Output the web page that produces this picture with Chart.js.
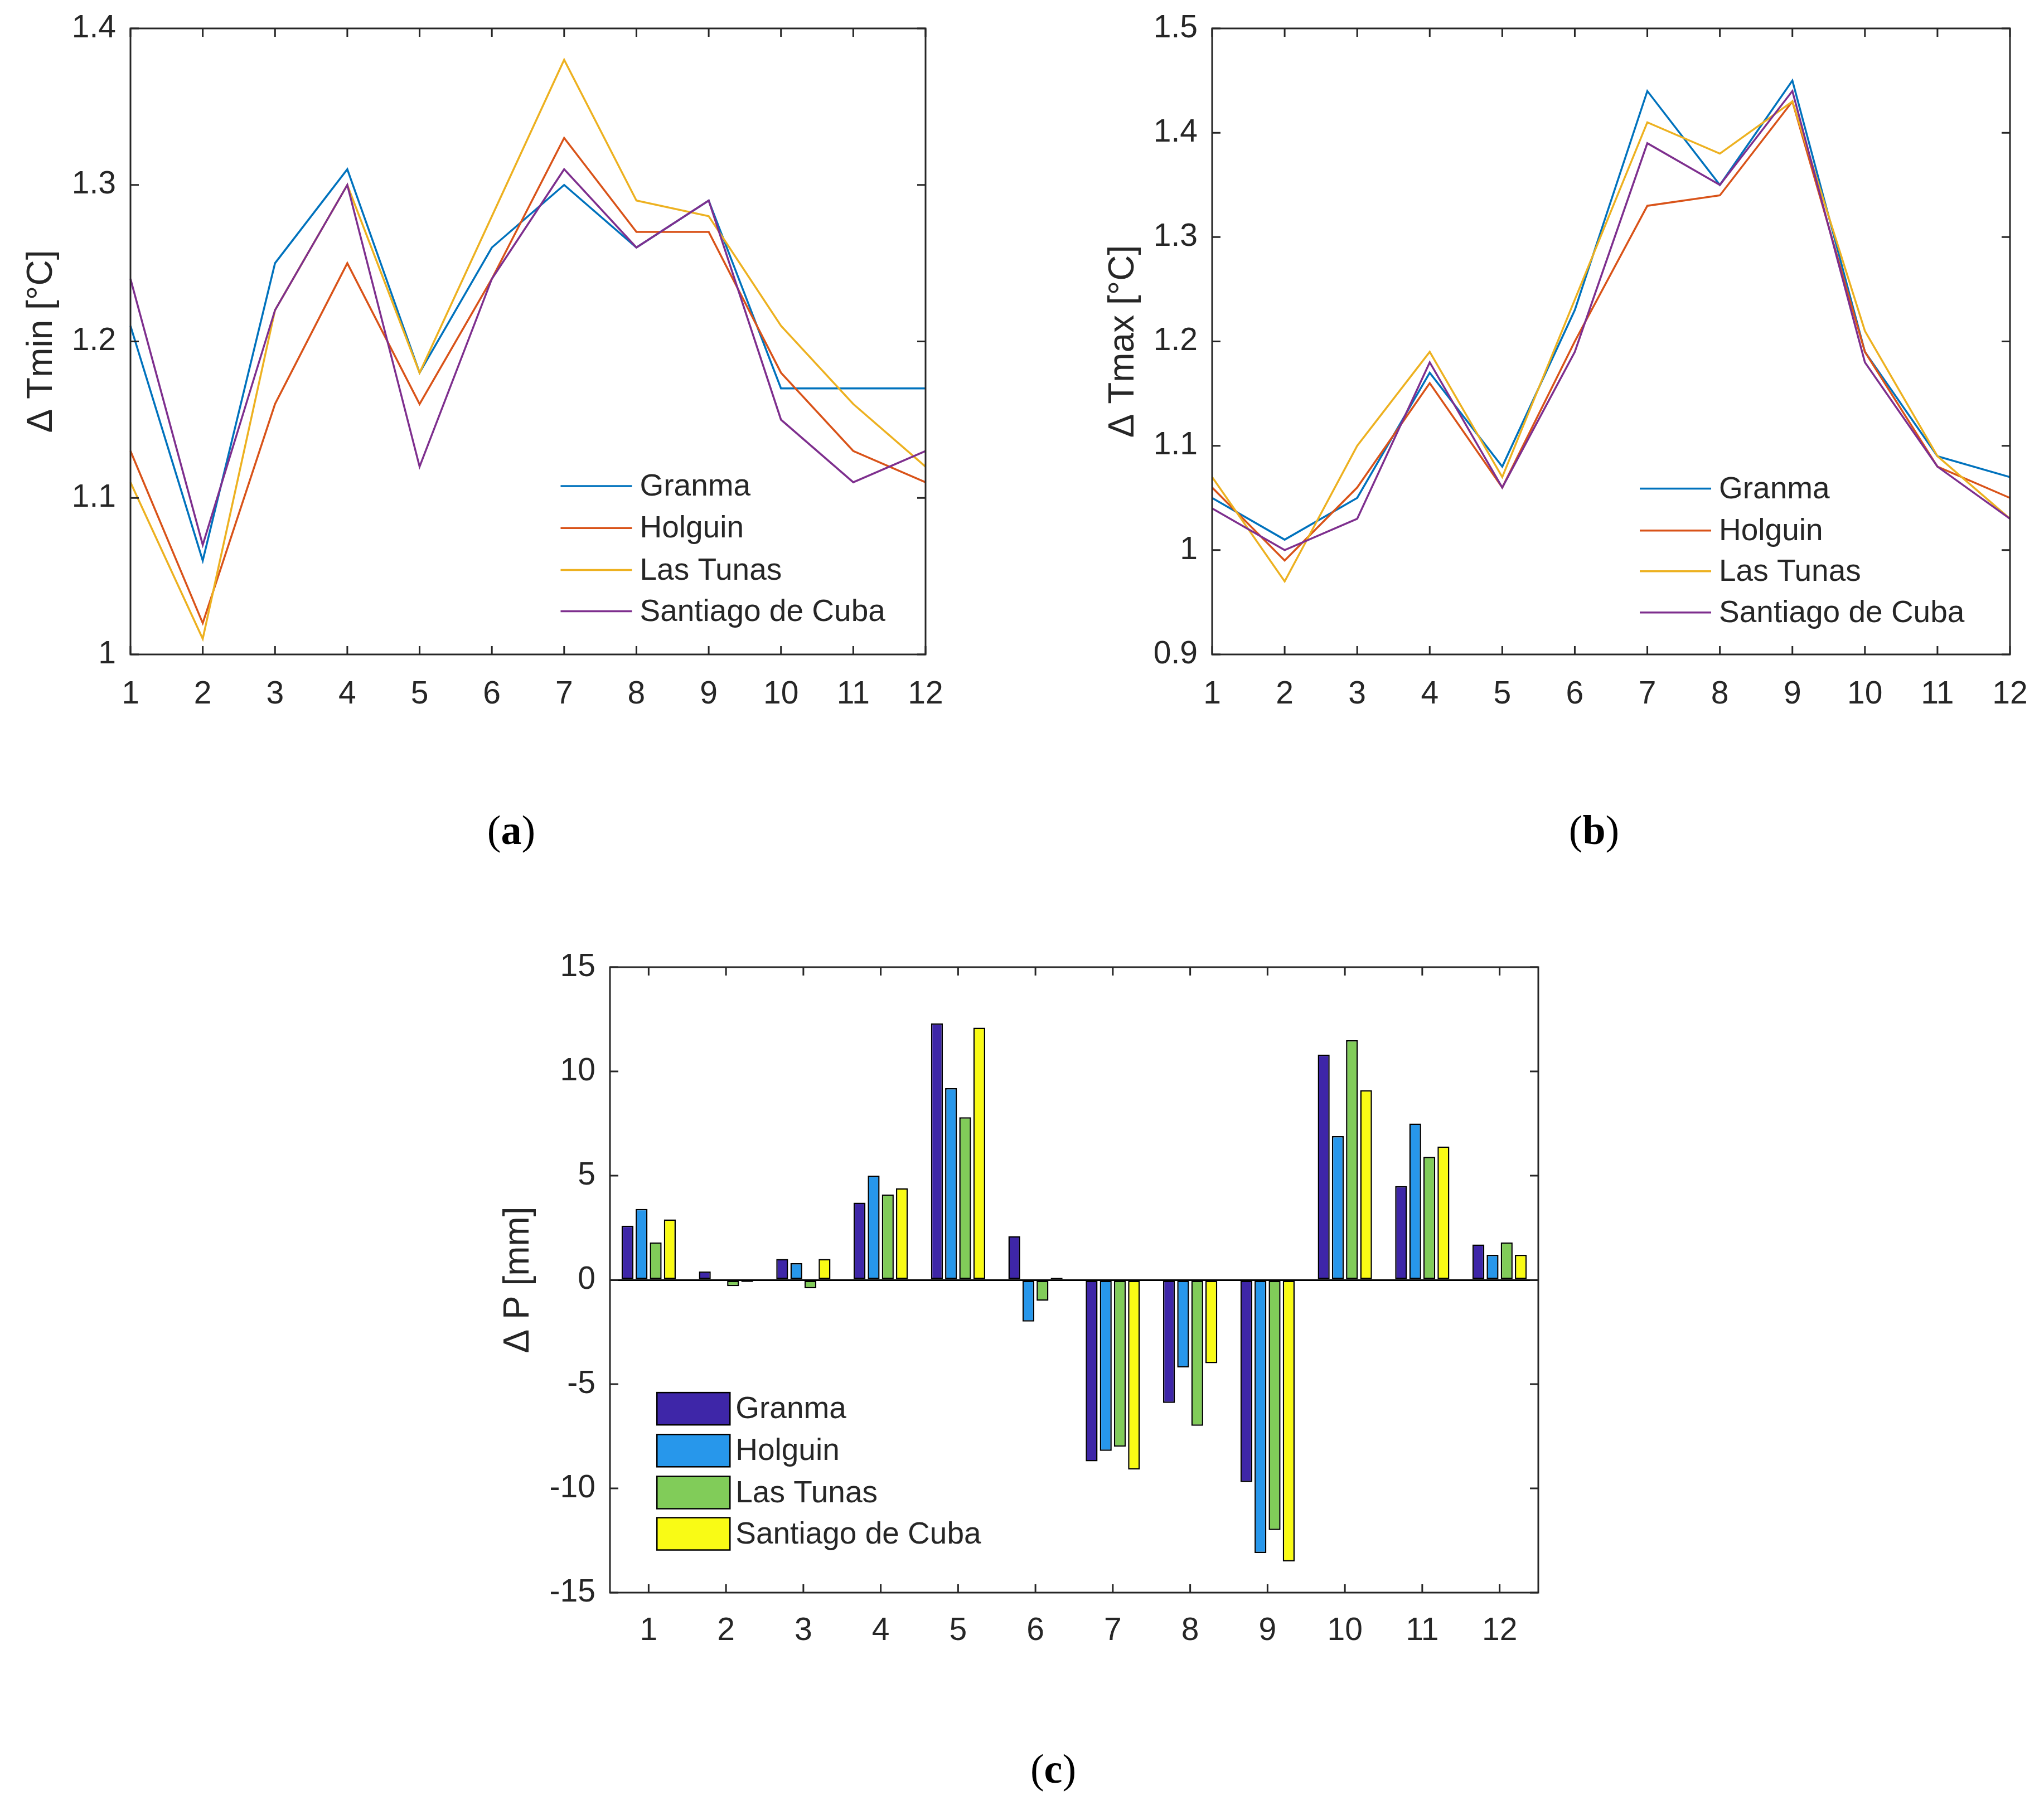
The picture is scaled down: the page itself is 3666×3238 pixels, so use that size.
<!DOCTYPE html>
<html>
<head>
<meta charset="utf-8">
<script src="https://cdn.jsdelivr.net/npm/chart.js@4.4.1/dist/chart.umd.min.js"></script>
<style>
  html, body { margin: 0; padding: 0; background: #fff; overflow: hidden; }
  body { width: 3666px; height: 3238px; position: relative; }
  .panel { position: absolute; }
  .tag { position: absolute; font-family: "Liberation Serif", "DejaVu Serif", serif; font-size: 74px; color: #000; transform: translate(-50%, -50%); white-space: nowrap; }
</style>
</head>
<body>
<div class="panel" style="left:0;top:-10px;width:1730px;height:1310px"><canvas id="chartTmin"></canvas></div>
<div class="panel" style="left:1909px;top:-10px;width:1766px;height:1310px"><canvas id="chartTmax"></canvas></div>
<div class="panel" style="left:800px;top:1650px;width:2000px;height:1350px"><canvas id="chartP"></canvas></div>
<div class="tag" style="left:917px;top:1489px">(<b>a</b>)</div>
<div class="tag" style="left:2859px;top:1489px">(<b>b</b>)</div>
<div class="tag" style="left:1889px;top:3173px">(<b>c</b>)</div>

<script>
const months = ['1', '2', '3', '4', '5', '6', '7', '8', '9', '10', '11', '12'];
const provinces = ['Granma', 'Holguin', 'Las Tunas', 'Santiago de Cuba'];
const lineColors = ['#0072BD', '#D95319', '#EDB120', '#7E2F8E'];
const barColors = ['#3E26A8', '#2797EB', '#81CC59', '#F9FB15'];

// ΔTmin [°C]
const tminGranma   = [1.21, 1.06, 1.25, 1.31, 1.18, 1.26, 1.30, 1.26, 1.29, 1.17, 1.17, 1.17];
const tminHolguin  = [1.13, 1.02, 1.16, 1.25, 1.16, 1.24, 1.33, 1.27, 1.27, 1.18, 1.13, 1.11];
const tminLasTunas = [1.11, 1.01, 1.22, 1.30, 1.18, 1.28, 1.38, 1.29, 1.28, 1.21, 1.16, 1.12];
const tminSantiago = [1.24, 1.07, 1.22, 1.30, 1.12, 1.24, 1.31, 1.26, 1.29, 1.15, 1.11, 1.13];
const tminTicks = [1, 1.1, 1.2, 1.3, 1.4];

// ΔTmax [°C]
const tmaxGranma   = [1.05, 1.01, 1.05, 1.17, 1.08, 1.23, 1.44, 1.35, 1.45, 1.19, 1.09, 1.07];
const tmaxHolguin  = [1.06, 0.99, 1.06, 1.16, 1.06, 1.20, 1.33, 1.34, 1.43, 1.19, 1.08, 1.05];
const tmaxLasTunas = [1.07, 0.97, 1.10, 1.19, 1.07, 1.24, 1.41, 1.38, 1.43, 1.21, 1.09, 1.03];
const tmaxSantiago = [1.04, 1.00, 1.03, 1.18, 1.06, 1.19, 1.39, 1.35, 1.44, 1.18, 1.08, 1.03];
const tmaxTicks = [0.9, 1, 1.1, 1.2, 1.3, 1.4, 1.5];

// ΔP [mm]
const pGranma   = [2.6, 0.4, 1.0, 3.7, 12.3, 2.1, -8.7, -5.9, -9.7, 10.8, 4.5, 1.7];
const pHolguin  = [3.4, 0.0, 0.8, 5.0, 9.2, -2.0, -8.2, -4.2, -13.1, 6.9, 7.5, 1.2];
const pLasTunas = [1.8, -0.3, -0.4, 4.1, 7.8, -1.0, -8.0, -7.0, -12.0, 11.5, 5.9, 1.8];
const pSantiago = [2.9, -0.1, 1.0, 4.4, 12.1, 0.1, -9.1, -4.0, -13.5, 9.1, 6.4, 1.2];
const pTicks = [-15, -10, -5, 0, 5, 10, 15];

const FONT = '"Liberation Sans", Arial, Helvetica, sans-serif';
const AXIS_COLOR = '#262626';

// box round the axes with MATLAB-style inward ticks on all four sides
const matlabBox = {
  id: 'matlabBox',
  afterDatasetsDraw(chart) {
    const { ctx, chartArea: a, scales: { x, y } } = chart;
    const len = 15;
    ctx.save();
    ctx.strokeStyle = AXIS_COLOR;
    ctx.lineWidth = 3;
    ctx.beginPath();
    x.ticks.forEach((t, i) => {
      const px = x.getPixelForTick(i);
      ctx.moveTo(px, a.bottom); ctx.lineTo(px, a.bottom - len);
      ctx.moveTo(px, a.top); ctx.lineTo(px, a.top + len);
    });
    y.ticks.forEach((t, i) => {
      const py = y.getPixelForTick(i);
      ctx.moveTo(a.left, py); ctx.lineTo(a.left + len, py);
      ctx.moveTo(a.right, py); ctx.lineTo(a.right - len, py);
    });
    ctx.stroke();
    ctx.strokeRect(a.left, a.top, a.right - a.left, a.bottom - a.top);
    ctx.restore();
  }
};

// legend drawn inside the plot area, like MATLAB's
const insideLegend = {
  id: 'insideLegend',
  afterDraw(chart, args, opts) {
    const { ctx, chartArea: a } = chart;
    const w = a.right - a.left, h = a.bottom - a.top;
    ctx.save();
    ctx.font = '55px ' + FONT;
    ctx.textBaseline = 'middle';
    chart.data.datasets.forEach((ds, i) => {
      const x0 = a.left + opts.x * w;
      const yc = a.top + opts.rows[i] * h;
      const sw = opts.sampleW;
      if (opts.kind === 'box') {
        ctx.fillStyle = ds.backgroundColor;
        ctx.fillRect(x0, yc - opts.boxH / 2, sw, opts.boxH);
        ctx.strokeStyle = '#000';
        ctx.lineWidth = 2.5;
        ctx.strokeRect(x0, yc - opts.boxH / 2, sw, opts.boxH);
      } else {
        ctx.strokeStyle = ds.borderColor;
        ctx.lineWidth = 3.5;
        ctx.beginPath();
        ctx.moveTo(x0, yc); ctx.lineTo(x0 + sw, yc);
        ctx.stroke();
      }
      ctx.fillStyle = AXIS_COLOR;
      ctx.fillText(ds.label, x0 + sw + opts.gap, yc + 2);
    });
    ctx.restore();
  }
};

function tickLabel(v) { return String(+Number(v).toFixed(2)); }

function lineChart(id, series, ticks, title, yWidth, titlePad, pad) {
  return new Chart(document.getElementById(id), {
    type: 'line',
    data: {
      labels: months,
      datasets: series.map((d, i) => ({
        label: provinces[i],
        data: d,
        borderColor: lineColors[i],
        borderWidth: 3.5,
        pointRadius: 0,
        tension: 0,
        fill: false,
        order: series.length - i
      }))
    },
    options: {
      responsive: true,
      maintainAspectRatio: false,
      animation: false,
      layout: { padding: { left: 0, top: 61, right: 70, bottom: 0 } },
      plugins: {
        legend: { display: false },
        tooltip: { enabled: false },
        insideLegend: { kind: 'line', x: pad.legendX, rows: pad.rows, sampleW: 128, gap: 14 }
      },
      scales: {
        x: {
          type: 'category',
          offset: false,
          grid: { display: false, drawTicks: false },
          border: { display: false },
          ticks: { color: AXIS_COLOR, font: { size: 57, family: FONT }, padding: 38, maxRotation: 0, autoSkip: false },
          afterFit: s => { s.height = 126; }
        },
        y: {
          min: ticks[0],
          max: ticks[ticks.length - 1],
          afterBuildTicks: s => { s.ticks = ticks.map(v => ({ value: v })); },
          grid: { display: false, drawTicks: false },
          border: { display: false },
          ticks: { color: AXIS_COLOR, font: { size: 57, family: FONT }, padding: 26, callback: tickLabel },
          title: { display: true, text: title, color: AXIS_COLOR, font: { size: 64, family: FONT }, padding: { top: titlePad, bottom: 0 } },
          afterFit: s => { s.width = yWidth; }
        }
      }
    },
    plugins: [matlabBox, insideLegend]
  });
}

lineChart('chartTmin', [tminGranma, tminHolguin, tminLasTunas, tminSantiago], tminTicks,
  'Δ Tmin [°C]', 234, 37,
  { legendX: 0.541, rows: [0.731, 0.798, 0.865, 0.931] });

lineChart('chartTmax', [tmaxGranma, tmaxHolguin, tmaxLasTunas, tmaxSantiago], tmaxTicks,
  'Δ Tmax [°C]', 265, 68,
  { legendX: 0.536, rows: [0.735, 0.802, 0.867, 0.933] });

new Chart(document.getElementById('chartP'), {
  type: 'bar',
  data: {
    labels: months,
    datasets: [pGranma, pHolguin, pLasTunas, pSantiago].map((d, i) => ({
      label: provinces[i],
      data: d,
      backgroundColor: barColors[i],
      borderColor: '#000',
      borderWidth: 2.5,
      borderSkipped: false,
      categoryPercentage: 0.73,
      barPercentage: 0.84
    }))
  },
  options: {
    responsive: true,
    maintainAspectRatio: false,
    animation: false,
    layout: { padding: { left: 0, top: 85, right: 41, bottom: 0 } },
    plugins: {
      legend: { display: false },
      tooltip: { enabled: false },
      insideLegend: { kind: 'box', x: 0.0506, rows: [0.706, 0.773, 0.840, 0.906], sampleW: 131, boxH: 58, gap: 10 }
    },
    scales: {
      x: {
        type: 'category',
        offset: true,
        grid: { display: false, drawTicks: false },
        border: { display: false },
        ticks: { color: AXIS_COLOR, font: { size: 57, family: FONT }, padding: 35, maxRotation: 0, autoSkip: false },
        afterFit: s => { s.height = 143; }
      },
      y: {
        min: pTicks[0],
        max: pTicks[pTicks.length - 1],
        afterBuildTicks: s => { s.ticks = pTicks.map(v => ({ value: v })); },
        grid: {
          drawTicks: false,
          lineWidth: 3,
          color: c => (c.tick && c.tick.value === 0) ? '#000' : 'rgba(0,0,0,0)'
        },
        border: { display: false },
        ticks: { color: AXIS_COLOR, font: { size: 57, family: FONT }, padding: 26, callback: tickLabel },
        title: { display: true, text: 'Δ P [mm]', color: AXIS_COLOR, font: { size: 64, family: FONT }, padding: { top: 92, bottom: 0 } },
        afterFit: s => { s.width = 294; }
      }
    }
  },
  plugins: [matlabBox, insideLegend]
});
</script>
</body>
</html>
